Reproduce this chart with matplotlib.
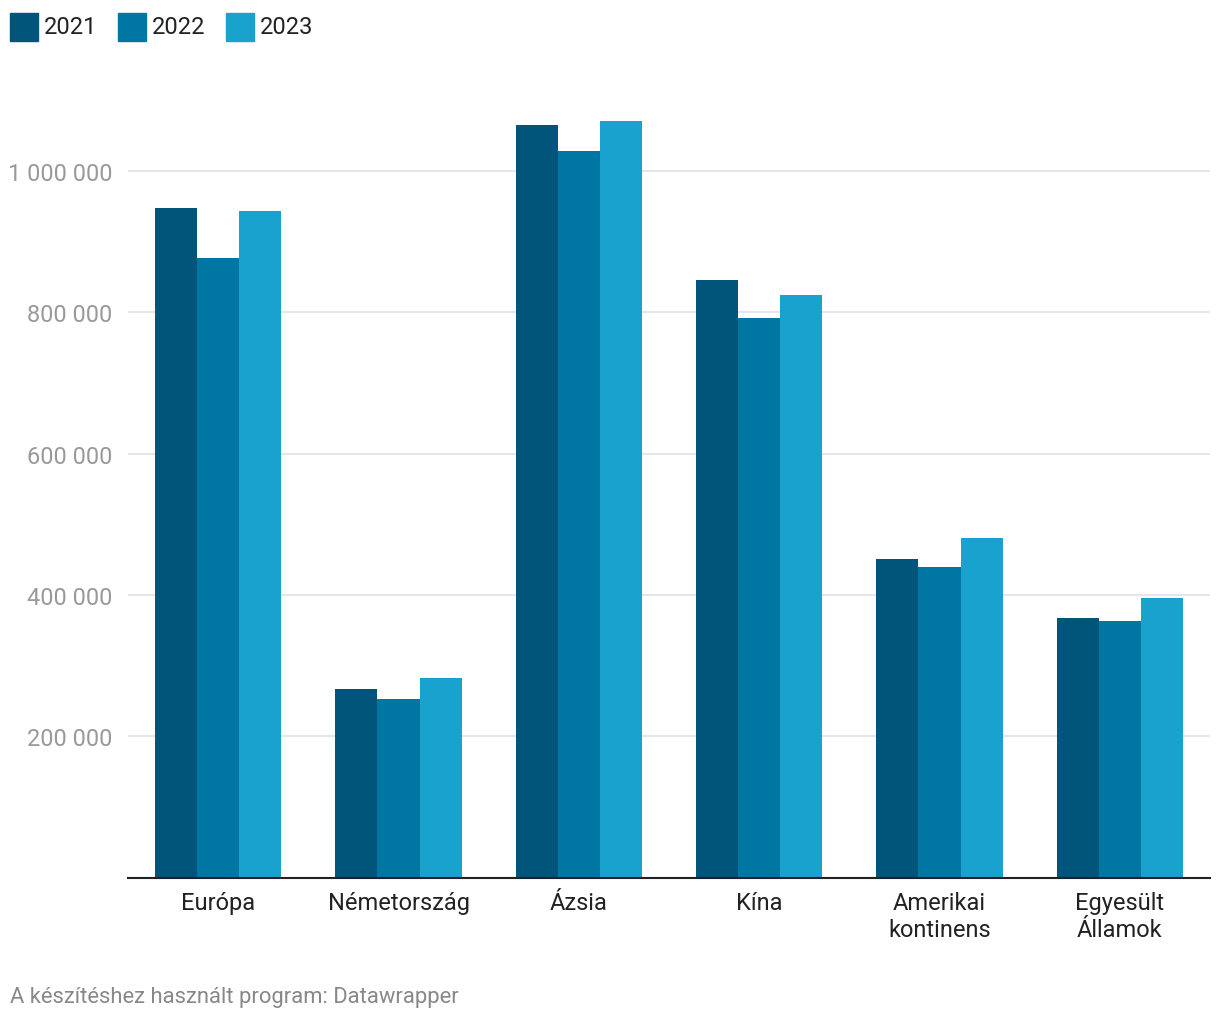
import matplotlib.pyplot as plt
import numpy as np

plt.rcParams['font.family'] = ['Roboto', 'DejaVu Sans']

# adatok
categories = ['Európa', 'Németország', 'Ázsia', 'Kína', 'Amerikai\nkontinens', 'Egyesült\nÁllamok']
years = ['2021', '2022', '2023']
v2021 = [947500, 267500, 1065000, 845500, 450500, 367000]
v2022 = [876500, 252000, 1028000, 792000, 439000, 362500]
v2023 = [943000, 282000, 1071000, 824500, 480000, 395000]
colors = ['#01547a', '#0077a2', '#19a2ce']
yticks = [200000, 400000, 600000, 800000, 1000000]

fig = plt.figure(figsize=(12.2, 10.2), dpi=100)
ax = fig.add_axes([128 / 1220, 1 - 878.5 / 1020, (1210 - 128) / 1220, (878.5 - 101.5) / 1020])

x = np.arange(len(categories))
w = 0.7 / 3
for i, (vals, c, lab) in enumerate(zip([v2021, v2022, v2023], colors, years)):
    ax.bar(x + (i - 1) * w, vals, width=w, color=c, label=lab, zorder=3)

ax.set_xlim(-0.5, len(categories) - 0.5)
ax.set_ylim(0, 1100000)
ax.set_yticks(yticks)
ax.set_yticklabels([f'{v:,}'.replace(',', ' ') for v in yticks], color='#999999', fontsize=16.9)
ax.yaxis.grid(True, color='#e6e6e6', lw=1.5, zorder=0)
ax.tick_params(axis='y', length=0, pad=11)
ax.set_xticks(x)
ax.set_xticklabels(categories, fontsize=17, color='#222222', linespacing=1.2)
ax.tick_params(axis='x', length=0, pad=10)
for s in ['top', 'right', 'left']:
    ax.spines[s].set_visible(False)
ax.spines['bottom'].set_color('#222222')
ax.spines['bottom'].set_linewidth(1.5)
ax.spines['bottom'].set_zorder(4)

# jelmagyarázat
lx = [10, 118, 226]
for px, c, lab in zip(lx, colors, years):
    fig.patches.append(plt.Rectangle((px / 1220, 1 - 42 / 1020), 28 / 1220, 28 / 1020,
                                     transform=fig.transFigure, color=c))
    fig.text((px + 34) / 1220, 1 - 27 / 1020, lab, fontsize=17, color='#222222', va='center')

fig.text(10 / 1220, 1 - 998 / 1020, 'A készítéshez használt program: Datawrapper',
         fontsize=15.8, color='#888888', va='center')

fig.savefig('out.png', dpi=100)
